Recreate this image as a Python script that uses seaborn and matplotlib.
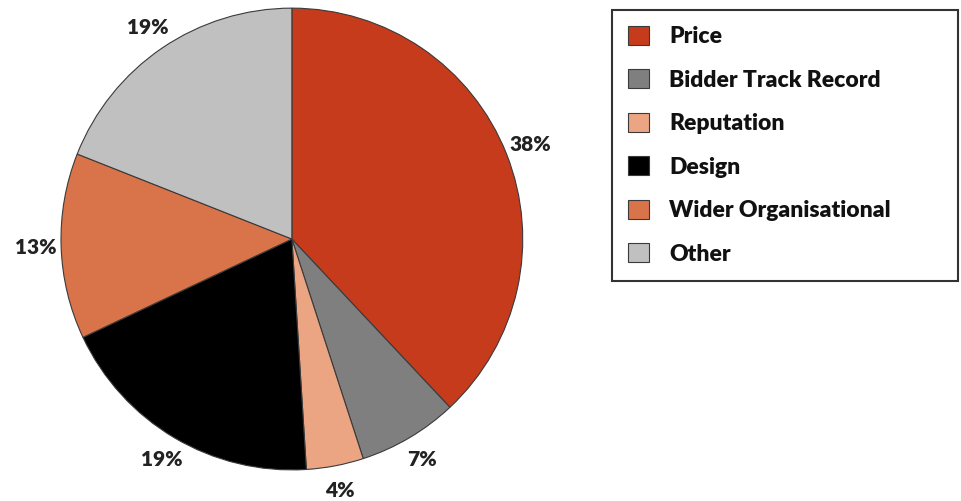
import matplotlib
matplotlib.use("Agg")
import seaborn as sns
import matplotlib.pyplot as plt

categories = ["Price", "Bidder Track Record", "Reputation", "Design", "Wider Organisational", "Other"]
shares = [38, 7, 4, 19, 13, 19]
colours = ["#C63B1C", "#7F7F7F", "#EBA583", "#000000", "#D9744A", "#C0C0C0"]

sns.set_theme(style="white")
plt.rcParams['font.family'] = ['Lato', 'DejaVu Sans']

fig = plt.figure(figsize=(9.62, 5.01), dpi=100)
ax = fig.add_axes([0.0634, 0.0619, 0.480, 0.922])

wedges, texts, autotexts = ax.pie(
    shares, colors=sns.color_palette(colours), startangle=90, counterclock=False,
    autopct='%d%%', pctdistance=1.11,
    wedgeprops=dict(edgecolor='#3a3a3a', linewidth=0.8),
    textprops=dict(fontsize=15, fontweight='heavy', color='#222222'))
ax.set_xlim(-1, 1)
ax.set_ylim(-1, 1)
ax.set_aspect('equal')

leg = fig.legend(wedges, categories, loc='upper left',
                 bbox_to_anchor=(612 / 962, 1 - 10 / 501, 346 / 962, 0.0),
                 mode='expand', prop=dict(weight='heavy', size=16.5),
                 frameon=True, fancybox=False, edgecolor='black',
                 handlelength=0.9, handleheight=0.9, handletextpad=0.9,
                 labelspacing=0.96, borderpad=0.7, borderaxespad=0)
leg.get_frame().set_linewidth(1.5)
for t in leg.get_texts():
    t.set_color('#111111')

fig.savefig("out.png", dpi=100)
